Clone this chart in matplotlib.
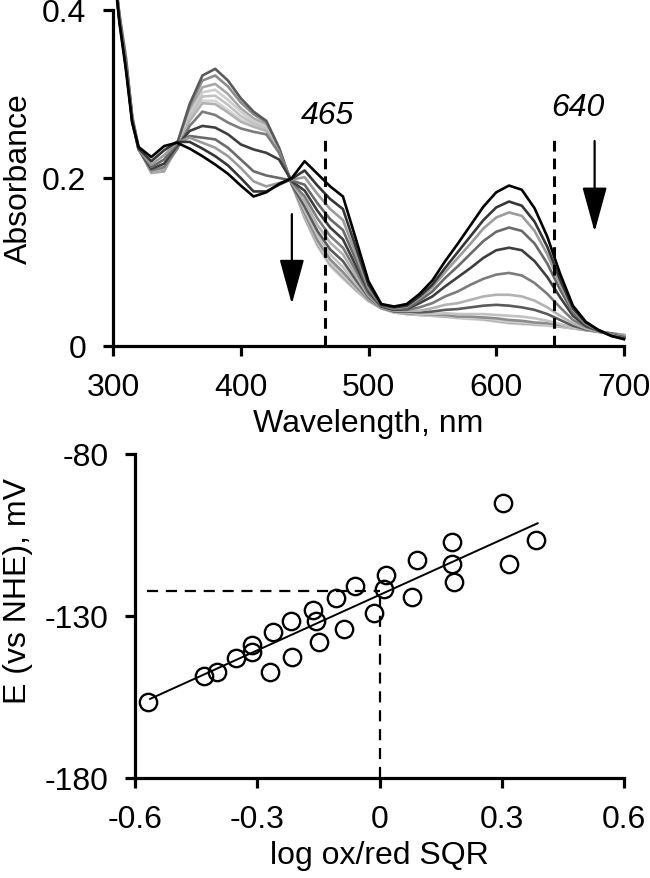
import matplotlib
matplotlib.use("Agg")
import matplotlib.pyplot as plt
import numpy as np

plt.rcParams['font.family'] = ['Liberation Sans', 'DejaVu Sans']
plt.rcParams['axes.unicode_minus'] = False

# ---------------- data: spectra ----------------
wavelength = [300, 305, 310, 315, 320, 330, 340, 350, 360, 370, 380, 390, 400, 410, 420, 430, 440,
              450, 460, 470, 480, 490, 500, 510, 520, 530, 540, 550, 560, 570, 580, 590, 600,
              610, 620, 630, 640, 650, 660, 670, 680, 690, 700]

spec0 = [0.46, 0.385, 0.330, 0.266, 0.237, 0.225, 0.238,
         0.242, 0.235, 0.226, 0.216, 0.205, 0.191, 0.178, 0.183, 0.193, 0.200,
         0.220, 0.205, 0.190, 0.178, 0.128, 0.077, 0.050, 0.047, 0.050,
         0.062, 0.078, 0.101, 0.122, 0.144, 0.166, 0.183, 0.191, 0.186, 0.164, 0.130, 0.086, 0.048, 0.029, 0.019, 0.012, 0.008]
spec1 = [0.46, 0.387, 0.333, 0.267, 0.235, 0.220, 0.233,
         0.243, 0.243, 0.235, 0.226, 0.215, 0.200, 0.184, 0.184, 0.192, 0.199,
         0.209, 0.191, 0.175, 0.163, 0.118, 0.073, 0.049, 0.046, 0.048,
         0.059, 0.073, 0.093, 0.112, 0.131, 0.150, 0.165, 0.172, 0.167, 0.148, 0.118, 0.079, 0.045, 0.028, 0.019, 0.012, 0.009]
spec2 = [0.46, 0.389, 0.336, 0.268, 0.234, 0.216, 0.227,
         0.242, 0.248, 0.242, 0.236, 0.226, 0.212, 0.196, 0.190, 0.194, 0.198,
         0.201, 0.181, 0.163, 0.150, 0.110, 0.070, 0.049, 0.045, 0.047,
         0.057, 0.070, 0.088, 0.105, 0.122, 0.140, 0.153, 0.159, 0.155, 0.137, 0.109, 0.074, 0.043, 0.027, 0.019, 0.013, 0.009]
spec3 = [0.46, 0.390, 0.338, 0.269, 0.234, 0.213, 0.222,
         0.240, 0.250, 0.248, 0.246, 0.236, 0.222, 0.208, 0.203, 0.200, 0.197,
         0.192, 0.170, 0.151, 0.138, 0.103, 0.067, 0.048, 0.044, 0.045,
         0.054, 0.065, 0.081, 0.095, 0.110, 0.125, 0.136, 0.141, 0.137, 0.122, 0.098, 0.067, 0.040, 0.026, 0.018, 0.013, 0.010]
spec4 = [0.46, 0.391, 0.339, 0.270, 0.234, 0.211, 0.217,
         0.238, 0.256, 0.262, 0.260, 0.252, 0.240, 0.234, 0.230, 0.222, 0.196,
         0.185, 0.161, 0.141, 0.127, 0.096, 0.065, 0.047, 0.043, 0.044,
         0.051, 0.059, 0.071, 0.082, 0.093, 0.105, 0.114, 0.117, 0.114, 0.101, 0.082, 0.058, 0.036, 0.024, 0.018, 0.013, 0.010]
spec5 = [0.46, 0.392, 0.340, 0.271, 0.235, 0.209, 0.213,
         0.234, 0.262, 0.279, 0.275, 0.266, 0.259, 0.255, 0.252, 0.230, 0.195,
         0.178, 0.152, 0.131, 0.117, 0.090, 0.062, 0.047, 0.043, 0.043,
         0.046, 0.051, 0.059, 0.065, 0.073, 0.080, 0.085, 0.087, 0.084, 0.075, 0.062, 0.046, 0.031, 0.023, 0.018, 0.014, 0.011]
spec6 = [0.46, 0.393, 0.341, 0.271, 0.235, 0.208, 0.211,
         0.235, 0.268, 0.289, 0.288, 0.278, 0.267, 0.261, 0.256, 0.231, 0.194,
         0.172, 0.144, 0.123, 0.109, 0.084, 0.060, 0.046, 0.042, 0.042,
         0.042, 0.045, 0.049, 0.051, 0.055, 0.059, 0.061, 0.061, 0.059, 0.054, 0.046, 0.036, 0.027, 0.021, 0.017, 0.014, 0.012]
spec7 = [0.46, 0.393, 0.342, 0.272, 0.236, 0.208, 0.211,
         0.240, 0.288, 0.322, 0.330, 0.316, 0.295, 0.279, 0.268, 0.236, 0.192,
         0.166, 0.137, 0.115, 0.101, 0.079, 0.058, 0.046, 0.041, 0.041,
         0.040, 0.041, 0.043, 0.044, 0.046, 0.048, 0.049, 0.048, 0.046, 0.043, 0.038, 0.031, 0.024, 0.020, 0.017, 0.015, 0.012]
spec8 = [0.46, 0.394, 0.343, 0.272, 0.236, 0.207, 0.210,
         0.237, 0.273, 0.297, 0.298, 0.287, 0.274, 0.265, 0.259, 0.233, 0.194,
         0.162, 0.132, 0.109, 0.094, 0.075, 0.057, 0.046, 0.041, 0.040,
         0.038, 0.038, 0.039, 0.038, 0.038, 0.038, 0.037, 0.036, 0.035, 0.033, 0.030, 0.026, 0.022, 0.020, 0.017, 0.015, 0.013]
spec9 = [0.46, 0.394, 0.344, 0.273, 0.236, 0.207, 0.209,
         0.239, 0.285, 0.316, 0.322, 0.309, 0.290, 0.276, 0.266, 0.235, 0.192,
         0.158, 0.126, 0.103, 0.088, 0.071, 0.055, 0.045, 0.041, 0.039,
         0.038, 0.037, 0.037, 0.035, 0.035, 0.034, 0.033, 0.031, 0.030, 0.028, 0.027, 0.025, 0.022, 0.019, 0.017, 0.015, 0.013]
spec10 = [0.46, 0.395, 0.345, 0.273, 0.236, 0.207, 0.209,
          0.237, 0.276, 0.302, 0.305, 0.293, 0.279, 0.268, 0.261, 0.233, 0.193,
          0.156, 0.124, 0.100, 0.085, 0.069, 0.054, 0.045, 0.040, 0.039,
          0.037, 0.036, 0.036, 0.034, 0.033, 0.033, 0.031, 0.029, 0.028, 0.027, 0.025, 0.024, 0.021, 0.019, 0.017, 0.015, 0.013]
spec11 = [0.46, 0.395, 0.345, 0.274, 0.236, 0.206, 0.208,
          0.238, 0.280, 0.308, 0.312, 0.300, 0.283, 0.271, 0.263, 0.234, 0.193,
          0.153, 0.121, 0.097, 0.082, 0.067, 0.054, 0.045, 0.040, 0.038,
          0.037, 0.036, 0.035, 0.034, 0.033, 0.032, 0.030, 0.028, 0.027, 0.026, 0.025, 0.023, 0.021, 0.019, 0.017, 0.015, 0.013]
spec12 = [0.46, 0.396, 0.346, 0.274, 0.237, 0.206, 0.208,
          0.236, 0.270, 0.292, 0.292, 0.281, 0.270, 0.263, 0.257, 0.232, 0.194,
          0.152, 0.119, 0.095, 0.080, 0.066, 0.053, 0.045, 0.040, 0.038,
          0.037, 0.036, 0.035, 0.033, 0.032, 0.031, 0.029, 0.027, 0.026, 0.025, 0.024, 0.023, 0.021, 0.019, 0.017, 0.015, 0.013]

spectra = [spec0, spec1, spec2, spec3, spec4, spec5, spec6, spec7, spec8, spec9, spec10, spec11, spec12]
spec_colors = ['#000000', '#363636', '#9c9c9c', '#6a6a6a', '#3e3e3e', '#7c7c7c', '#b2b2b2',
               '#5a5a5a', '#c2c2c2', '#8c8c8c', '#cdcdcd', '#a8a8a8', '#d6d6d6']

marker_lines = [466, 645]
marker_labels = ['465', '640']

# ---------------- data: Nernst plot ----------------
log_ratio = [-0.569, -0.430, -0.398, -0.352, -0.313, -0.313, -0.268, -0.262, -0.217, -0.215,
             -0.163, -0.155, -0.149, -0.107, -0.088, -0.059, -0.014, 0.015, 0.010, 0.080,
             0.093, 0.177, 0.179, 0.183, 0.302, 0.318, 0.385]
potential = [-156.4, -148.4, -147.2, -143.0, -139.0, -141.0, -147.2, -135.0, -131.4, -142.8,
             -128.1, -131.4, -138.1, -124.5, -134.0, -120.8, -129.1, -117.3, -121.7, -124.2,
             -112.6, -107.1, -114.0, -119.4, -95.2, -114.0, -106.5]
fit_slope = 57.0
fit_intercept = -123.5
fit_range = [-0.563, 0.388]
midpoint_E = -122.3

FS = 23
fig = plt.figure(figsize=(6.5, 8.79), dpi=100)

# ---------------- top panel ----------------
ax1 = fig.add_axes([113/650, (879-347)/879, (624-113)/650, (347-11)/879])
for s, c in reversed(list(zip(spectra, spec_colors))):
    ax1.plot(wavelength, s, color=c, lw=1.9, clip_on=False, solid_joinstyle='round')
ax1.set_xlim(300, 700)
ax1.set_ylim(0, 0.4)
ax1.set_xticks([300, 400, 500, 600, 700])
ax1.set_yticks([0, 0.2, 0.4])
ax1.set_yticklabels(['0', '0.2', '0.4'])
for x0 in marker_lines:
    ax1.plot([x0, x0], [0, 0.252], color='k', lw=2.2, dashes=(3.5, 2.3))
ax1.text(468, 0.275, marker_labels[0], fontsize=FS, style='italic', ha='center', va='center')
ax1.text(643, 0.2845, marker_labels[1], fontsize=FS, style='italic', ha='left', va='center')
for xa, y0, y1 in [(440, 0.157, 0.05), (677, 0.244, 0.136)]:
    ax1.annotate('', xy=(xa, y1), xytext=(xa, y0),
                 arrowprops=dict(arrowstyle='-|>,head_length=2.0,head_width=0.55',
                                 lw=1.6, color='k', shrinkA=0, shrinkB=0, mutation_scale=14))
ax1.set_xlabel('Wavelength, nm', fontsize=FS, labelpad=4)
ax1.set_ylabel('Absorbance', fontsize=FS, labelpad=6)

# ---------------- bottom panel ----------------
ax2 = fig.add_axes([135/650, (879-779)/879, (624-135)/650, (779-455)/879])
ax2.plot(log_ratio, potential, 'o', ms=12.5, mfc='none', mec='k', mew=1.7, clip_on=False)
fx = np.array(fit_range)
ax2.plot(fx, fit_slope*fx + fit_intercept, color='k', lw=1.4)
ax2.plot([-0.571, 0], [midpoint_E, midpoint_E], color='k', lw=1.6, dashes=(5, 3.5))
ax2.plot([0, 0], [-180, midpoint_E], color='k', lw=1.6, dashes=(5, 3.5))
ax2.set_xlim(-0.6, 0.6)
ax2.set_ylim(-180, -80)
ax2.set_xticks([-0.6, -0.3, 0, 0.3, 0.6])
ax2.set_xticklabels(['-0.6', '-0.3', '0', '0.3', '0.6'])
ax2.set_yticks([-180, -130, -80])
ax2.set_yticklabels(['-180', '-130', '-80'])
ax2.set_xlabel('log ox/red SQR', fontsize=FS, labelpad=4)
ax2.set_ylabel('E (vs NHE), mV', fontsize=FS)
ax2.yaxis.set_label_coords(-0.208, 0.58)

for ax in (ax1, ax2):
    for sp in ('top', 'right'):
        ax.spines[sp].set_visible(False)
    for sp in ('left', 'bottom'):
        ax.spines[sp].set_linewidth(2.3)
    ax.tick_params(direction='out', length=7, width=2.3, labelsize=FS, pad=12)

fig.savefig('out.png', dpi=100)
